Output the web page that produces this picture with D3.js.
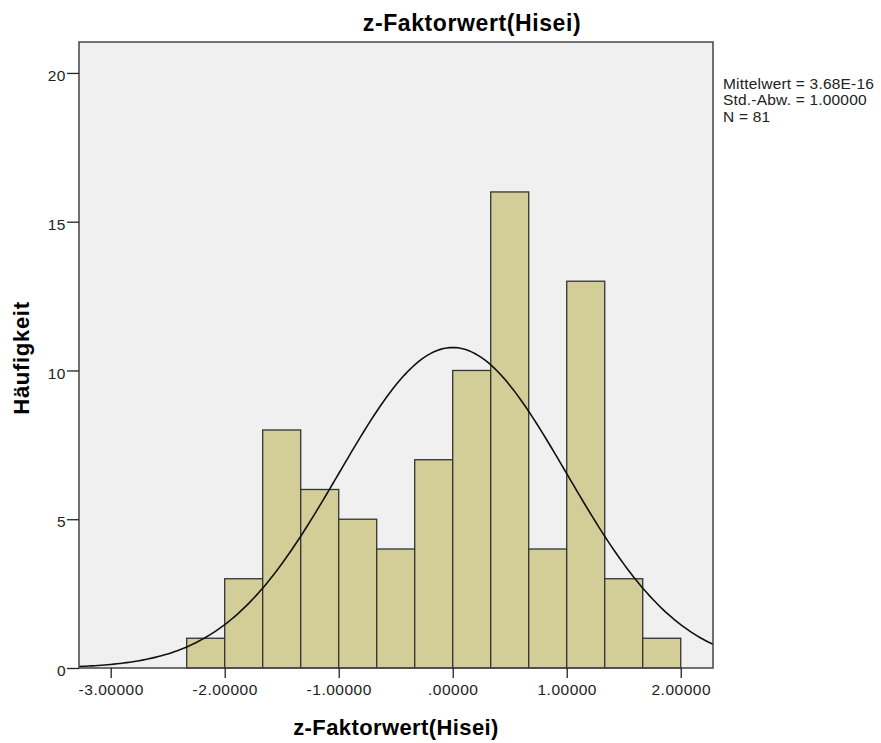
<!DOCTYPE html>
<html>
<head>
<meta charset="utf-8">
<script src="https://cdn.jsdelivr.net/npm/d3@7"></script>
<style>
  body { margin: 0; background: #fff; }
  text { font-family: "Liberation Sans", Arial, sans-serif; }
  .tick text { font-size: 15.5px; letter-spacing: 0.5px; fill: #222; }
  .tick line { stroke: #222; stroke-width: 1.3; }
</style>
</head>
<body>
<div id="chart"></div>
<script>
// bin edges (z-values) and counts
let binStart = [-2.33333, -2.0, -1.66667, -1.33333, -1.0, -0.66667, -0.33333, 0.0, 0.33333, 0.66667, 1.0, 1.33333, 1.66667];
let binEnd = [-2.0, -1.66667, -1.33333, -1.0, -0.66667, -0.33333, 0.0, 0.33333, 0.66667, 1.0, 1.33333, 1.66667, 2.0];
let counts = [1, 3, 8, 6, 5, 4, 7, 10, 16, 4, 13, 3, 1];
let xTicks = [-3, -2, -1, 0, 1, 2];
let yTicks = [0, 5, 10, 15, 20];
let statLines = ["Mittelwert = 3.68E-16", "Std.-Abw. = 1.00000", "N = 81"];
let mean = 0, sd = 1, n = 81, binWidth = 1 / 3;

let margin = {top: 42, right: 168, left: 79, bottom: 75};
let width = 881 - margin.left - margin.right;
let height = 743 - margin.top - margin.bottom;

let svg = d3.select("#chart")
    .append("svg")
    .attr("width", 881)
    .attr("height", 743);

let chart = svg.append("g")
    .attr("transform", "translate(" + margin.left + "," + margin.top + ")");

let xScale = d3.scaleLinear().domain([-3.278, 2.283]).range([0, width]);
let yScale = d3.scaleLinear().domain([0, 21.04]).range([height, 0]);

chart.append("rect")
    .attr("width", width)
    .attr("height", height)
    .attr("fill", "#f0f0f0");

chart.selectAll(".bar")
    .data(counts)
    .enter()
    .append("rect")
    .attr("class", "bar")
    .attr("x", (d, i) => xScale(binStart[i]))
    .attr("width", (d, i) => xScale(binEnd[i]) - xScale(binStart[i]))
    .attr("y", d => yScale(d))
    .attr("height", d => yScale(0) - yScale(d))
    .attr("fill", "#d3ce97")
    .attr("stroke", "#333")
    .attr("stroke-width", 1.3);

// fitted normal curve
let curveX = d3.range(0, 201).map(i => xScale.domain()[0] + i * (xScale.domain()[1] - xScale.domain()[0]) / 200);
let pdf = x => n * binWidth * Math.exp(-0.5 * Math.pow((x - mean) / sd, 2)) / (sd * Math.sqrt(2 * Math.PI));

chart.append("path")
    .datum(curveX)
    .attr("d", d3.line().x(d => xScale(d)).y(d => yScale(pdf(d))))
    .attr("fill", "none")
    .attr("stroke", "#111")
    .attr("stroke-width", 1.6);

chart.append("rect")
    .attr("width", width)
    .attr("height", height)
    .attr("fill", "none")
    .attr("stroke", "#444")
    .attr("stroke-width", 1.5);

// SPSS style: hyphen minus, no leading zero
let spssFormat = function(d) {
    let s = Math.abs(d).toFixed(5);
    if (Math.abs(d) < 1) s = s.replace(/^0/, "");
    return (d < 0 ? "-" : "") + s;
};

let xAxis = d3.axisBottom(xScale).tickValues(xTicks).tickFormat(spssFormat).tickSize(10).tickPadding(6);
let yAxis = d3.axisLeft(yScale).tickValues(yTicks).tickFormat(d3.format("d")).tickSize(12).tickPadding(1);

chart.append("g")
    .attr("transform", "translate(0," + height + ")")
    .call(xAxis)
    .call(g => g.select(".domain").remove());

chart.append("g")
    .call(yAxis)
    .call(g => g.select(".domain").remove())
    .call(g => g.selectAll(".tick text").attr("dy", "0.5em"));

// titles
svg.append("text")
    .attr("x", 472)
    .attr("y", 31)
    .attr("text-anchor", "middle")
    .style("font-size", "23px")
    .style("letter-spacing", "0.6px")
    .style("font-weight", "bold")
    .text("z-Faktorwert(Hisei)");

svg.append("text")
    .attr("x", margin.left + width / 2)
    .attr("y", 735)
    .attr("text-anchor", "middle")
    .style("font-size", "22px")
    .style("letter-spacing", "0.4px")
    .style("font-weight", "bold")
    .text("z-Faktorwert(Hisei)");

svg.append("text")
    .attr("transform", "translate(29,358) rotate(-90)")
    .attr("text-anchor", "middle")
    .style("font-size", "22px")
    .style("letter-spacing", "0.7px")
    .style("font-weight", "bold")
    .text("Häufigkeit");

svg.append("g")
    .selectAll("text")
    .data(statLines)
    .enter()
    .append("text")
    .attr("x", 723)
    .attr("y", (d, i) => 89 + i * 16.3)
    .style("font-size", "15.5px")
    .style("letter-spacing", "0.2px")
    .style("fill", "#222")
    .text(d => d);
</script>
</body>
</html>
